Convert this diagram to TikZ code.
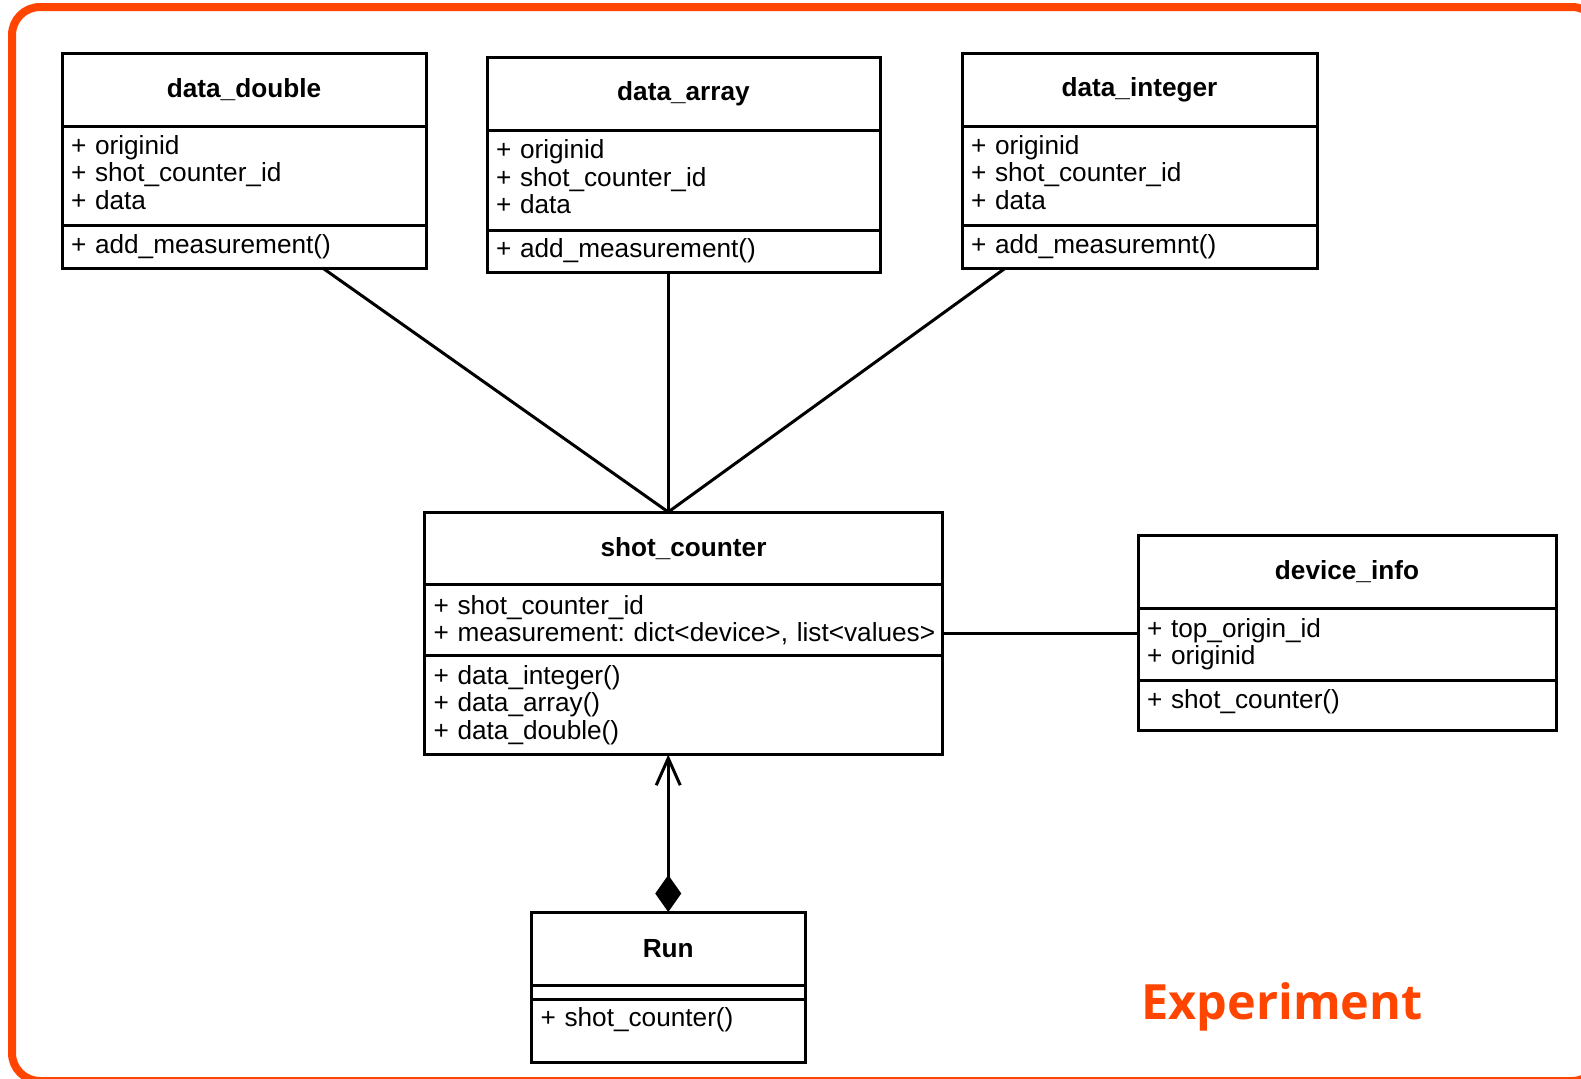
\documentclass[tikz,border=0pt]{standalone}
\usepackage{fontspec}
\setmainfont{Liberation Sans}
\newfontfamily\expfont{Open Sans}
\usetikzlibrary{arrows.meta,calc}
\definecolor{frameorange}{RGB}{255,69,0}
\frenchspacing

\begin{document}
\begin{tikzpicture}[x=0.5pt,y=-0.5pt,
	box/.style={draw,line width=1.5pt,outer sep=0pt,inner xsep=4.5pt,inner ysep=0pt,
		anchor=north west,font=\fontsize{13.1}{13.75}\selectfont},
	head/.style={box,font=\fontsize{13.1}{13.75}\selectfont\bfseries,align=center,minimum height=36.5pt},
	part/.style={box,align=left},
	link/.style={line width=1.5pt}]

\useasboundingbox (0,0) rectangle (1581,1078);
\draw[frameorange,line width=4pt,rounded corners=14pt] (12,7) rectangle (1600,1081);

% data_double
\node[head,text width=173pt] (ddT) at (62,53) {data\_double};
\node[part,text width=173pt,minimum height=49.5pt,text depth=31pt] (ddA) at (ddT.south west) {+ originid\\+ shot\_counter\_id\\+ data};
\node[part,text width=173pt,minimum height=21.5pt] (ddM) at (ddA.south west) {+ add\_measurement()};

% data_array
\node[head,text width=187.5pt] (daT) at (487,57.5) {data\_array};
\node[part,text width=187.5pt,minimum height=49.75pt,text depth=31pt] (daA) at (daT.south west) {+ originid\\+ shot\_counter\_id\\+ data};
\node[part,text width=187.5pt,minimum height=21pt] (daM) at (daA.south west) {+ add\_measurement()};

% data_integer
\node[head,text width=168.5pt] (diT) at (962,53.4) {data\_integer};
\node[part,text width=168.5pt,minimum height=49.5pt,text depth=31pt] (diA) at (diT.south west) {+ originid\\+ shot\_counter\_id\\+ data};
\node[part,text width=168.5pt,minimum height=21.5pt] (diM) at (diA.south west) {+ add\_measuremnt()};

% shot_counter
\node[head,text width=250pt,minimum height=36.25pt] (scT) at (424.5,512) {shot\_counter};
\node[part,text width=250pt,minimum height=35.5pt] (scA) at (scT.south west) {+ shot\_counter\_id\\\mbox{+ measurement: dict<device>, list<values>}};
\node[part,text width=250pt,minimum height=49.5pt] (scM) at (scA.south west) {+ data\_integer()\\+ data\_array()\\+ data\_double()};

% device_info
\node[head,text width=200pt] (dvT) at (1138,535.5) {device\_info};
\node[part,text width=200pt,minimum height=35.75pt] (dvA) at (dvT.south west) {+ top\_origin\_id\\+ originid};
\node[part,text width=200pt,minimum height=25pt,text depth=5.6pt] (dvM) at (dvA.south west) {+ shot\_counter()};

% Run
\node[head,text width=127.75pt] (runT) at (531.5,912) {Run};
\node[part,text width=127.75pt,minimum height=7pt] (runE) at (runT.south west) {};
\node[part,text width=127.75pt,minimum height=31.5pt,text depth=13.2pt] (runM) at (runE.south west) {+ shot\_counter()};

\node[text=frameorange,font=\expfont\bfseries\fontsize{24.3}{28}\selectfont,anchor=base west,inner sep=0pt] (exp) at (1141,1019) {Experiment};

% connectors
\coordinate (hub) at (scT.north -| runT.north);
\draw[link] ($(ddM.south west)!0.716!(ddM.south east)$) -- (hub);
\draw[link] (daM.south -| hub) -- (hub);
\draw[link] ($(diM.south west)!0.121!(diM.south east)$) -- (hub);
\draw[link] ([yshift=-6.75pt]scA.east) -- ([yshift=-6.75pt]scA.east -| dvA.west);
\draw[link,{Diamond[length=18.5pt,width=13pt]}-{Straight Barb[length=13.5pt,width=12pt]}] (runT.north) -- (scM.south -| runT.north);
\end{tikzpicture}
\end{document}
